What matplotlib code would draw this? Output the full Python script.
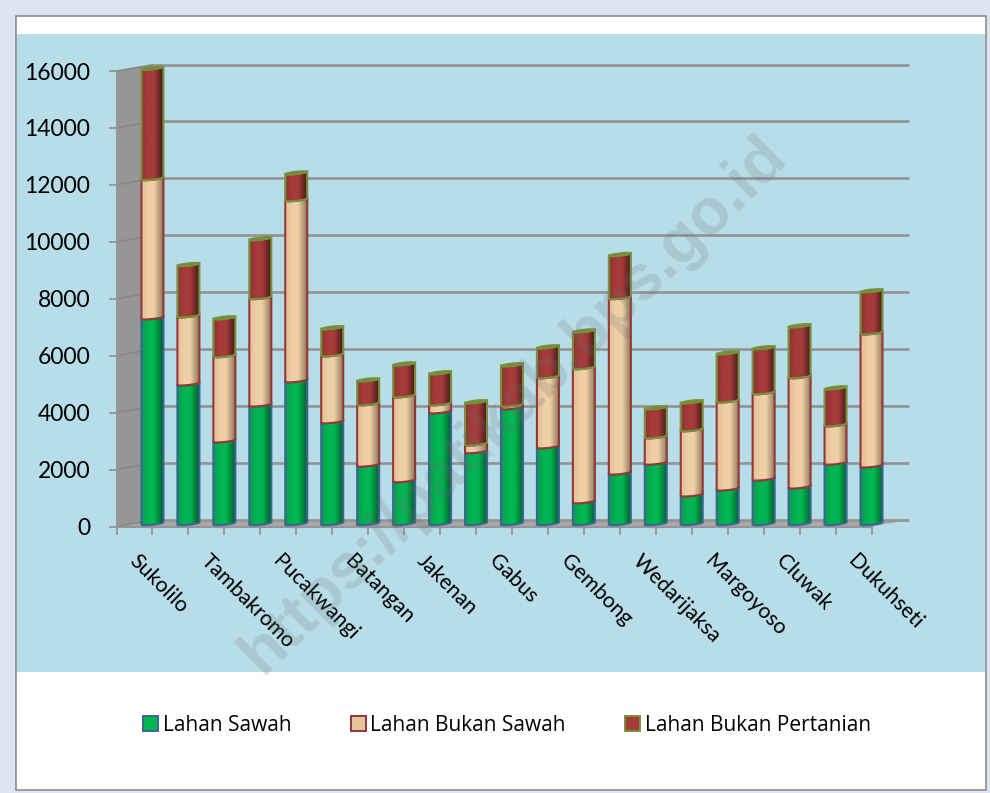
import numpy as np
import matplotlib
matplotlib.use("Agg")
import matplotlib.pyplot as plt
from matplotlib.patches import Patch, Polygon, Rectangle
from matplotlib.transforms import Affine2D

# Only every second district is labelled in the chart
shown_labels = ["Sukolilo", "Tambakromo", "Pucakwangi", "Batangan", "Jakenan", "Gabus",
                "Gembong", "Wedarijaksa", "Margoyoso", "Cluwak", "Dukuhseti"]
series_names = ["Lahan Sawah", "Lahan Bukan Sawah", "Lahan Bukan Pertanian"]
sawah = [7230, 4910, 2910, 4170, 5020, 3580, 2060, 1510, 3930, 2530, 4070,
         2700, 770, 1780, 2130, 1010, 1220, 1570, 1290, 2130, 2030]
bukan_sawah = [4890, 2390, 2990, 3770, 6360, 2350, 2150, 2980, 280, 270, 100,
               2460, 4710, 6160, 920, 2290, 3090, 3030, 3870, 1340, 4670]
bukan_pertanian = [3880, 1800, 1330, 2070, 940, 950, 840, 1120, 1090, 1480, 1410,
                   1050, 1290, 1510, 1020, 980, 1690, 1580, 1790, 1300, 1480]
y_ticks = list(range(0, 16001, 2000))

W, H = 990, 793
GRID = "#939393"
WALL = "#969696"
FLOOR = "#a8a8a8"

# Colours: face left, face mid, face right, edge
styles = [
    ("#0a9c4c", "#00b652", "#00602c", "#3a6595"),
    ("#e0c09a", "#f0cfa6", "#8f7a5c", "#953735"),
    ("#8f3432", "#a53c3a", "#4a1a18", "#76923c"),
]

fig = plt.figure(figsize=(W / 100, H / 100), dpi=100, facecolor="#dce6f2")

# Page frame and blue panel, in pixels
bg = fig.add_axes([0, 0, 1, 1])
bg.set_xlim(0, W)
bg.set_ylim(H, 0)
bg.axis("off")
bg.add_patch(Rectangle((15.5, 15.5), 970, 774, fc="white", ec="#8c8c8c", lw=1.2))
bg.add_patch(Rectangle((16.5, 34), 968, 638, fc="#b7dde8", ec="none"))

# Axes fit the front edge of the chart box
left, right, y_zero, y_top = 116.5, 871.5, 526.5, 71.0
ax = fig.add_axes([left / W, 1 - y_zero / H, (right - left) / W, (y_zero - y_top) / H])
ax.patch.set_alpha(0)
ax.set_xlim(-1, 20)
ax.set_ylim(0, 16000)
for s in ax.spines.values():
    s.set_visible(False)

px_y = 16000 / (y_zero - y_top)
px_x = 21 / (right - left)
dx_back, dy_back = 37 * px_x, 6.5 * px_y

# Side wall and floor of the 3D box
ax.add_patch(Polygon([(-1, 0), (-1 + dx_back, dy_back), (-1 + dx_back, 16000 + dy_back), (-1, 16000)],
                     fc=WALL, ec="none", clip_on=False, zorder=1))
ax.add_patch(Polygon([(-1, 0), (-1 + dx_back, dy_back), (20 + dx_back, dy_back), (20, 0)],
                     fc=FLOOR, ec="none", clip_on=False, zorder=1))
for v in y_ticks:
    ax.plot([-1 + dx_back, 20 + dx_back], [v + dy_back] * 2, color=GRID, lw=1.9, clip_on=False, zorder=2,
            solid_capstyle="butt")
    ax.plot([-1, -1 + dx_back], [v, v + dy_back], color="#858585", lw=1.0, clip_on=False, zorder=2)
ax.plot([-1, -1], [0, 16000], color=WALL, lw=1.5, clip_on=False, zorder=2)
ax.plot([-1, 20], [0, 0], color=WALL, lw=1.5, clip_on=False, zorder=2)

ax.set_yticks(y_ticks)
ax.set_yticklabels([str(v) for v in y_ticks], fontsize=16.5, family="Lato", color="black")
ax.tick_params(axis="y", length=5.5, width=1.3, color=WALL, pad=13.5)
ax.set_xticks(range(-1, 21))
ax.set_xticklabels([""] + [shown_labels[i // 2] if i % 2 == 0 else "" for i in range(21)],
                   fontsize=15.3, family="Lato", rotation=-45, rotation_mode="anchor", ha="left", va="center")
ax.tick_params(axis="x", length=5.5, width=1.3, color=WALL, pad=17)
shift = Affine2D().translate(-20, 0)
for lab in ax.get_xticklabels():
    lab.set_transform(lab.get_transform() + shift)

# Bars sit a little behind the front edge
lift = ax.transData + Affine2D().translate(0, 3.0)
half = 11.0 * px_x
tilt = 1.2 * px_y
sag = 1.3 * px_y
t = np.linspace(-1, 1, 15)
rim = tilt * t - sag * np.sqrt(1 - t ** 2)
rim_up = tilt * t + sag * np.sqrt(1 - t ** 2)


def draw_segment(x, low, high, style, z, top):
    c_l, c_m, c_r, edge = style
    xs = x + half * t
    px = np.concatenate([xs, xs[::-1]])
    py = np.concatenate([low + rim, (high + rim)[::-1]])
    poly = Polygon(np.column_stack([px, py]), closed=True, fc="none", ec=edge, lw=1.5,
                   transform=lift, zorder=z + 1, clip_on=False)
    ax.add_patch(poly)
    clip = Polygon(np.column_stack([px, py]), closed=True, transform=lift, fc="none", ec="none", clip_on=False)
    ax.add_patch(clip)
    stops = np.array([matplotlib.colors.to_rgb(c) for c in (c_l, c_m, c_m, c_r)])
    pos = np.linspace(0, 1, 64)
    grad = np.stack([np.interp(pos, [0, 0.35, 0.6, 1], stops[:, i]) for i in range(3)], axis=-1)[None, :, :]
    im = ax.imshow(grad, extent=[x - half, x + half, low - 3 * sag, high + 3 * sag], aspect="auto",
                   transform=lift, zorder=z, interpolation="bilinear")
    im.set_clip_box(fig.bbox)
    im.set_clip_path(clip)
    if top:
        lid = np.column_stack([np.concatenate([xs, xs[::-1]]),
                               np.concatenate([high + rim, (high + rim_up)[::-1]])])
        ax.add_patch(Polygon(lid, closed=True, fc="#6f8a3a", ec=edge, lw=1.2, transform=lift,
                             zorder=z + 2, clip_on=False))


for i in range(21):
    bottom = 0
    for k, vals in enumerate([sawah, bukan_sawah, bukan_pertanian]):
        draw_segment(i, bottom, bottom + vals[i], styles[k], 5 + k * 3, k == 2)
        bottom += vals[i]

ax.set_xlim(-1, 20)
ax.set_ylim(0, 16000)

# Watermark over everything
bg2 = fig.add_axes([0, 0, 1, 1])
bg2.set_xlim(0, W)
bg2.set_ylim(H, 0)
bg2.axis("off")
bg2.text(514, 405, "https://patikab.bps.go.id", rotation=44.5, rotation_mode="anchor", ha="center", va="center",
         fontsize=46, family="Liberation Sans", fontweight="bold", color="#6e6e6e", alpha=0.2)

handles = [Patch(fc=styles[i][1] if i != 1 else "#e6c49a", ec=styles[i][3], lw=1.4,
                 label=series_names[i]) for i in range(3)]
fig.legend(handles=handles, ncol=3, loc="center", bbox_to_anchor=(507 / W, 1 - 725.5 / H), frameon=False,
           prop={"family": "Open Sans", "size": 15}, handlelength=0.72, handleheight=0.72,
           handletextpad=0.22, columnspacing=2.85)

fig.savefig("out.png", dpi=100, facecolor=fig.get_facecolor())
